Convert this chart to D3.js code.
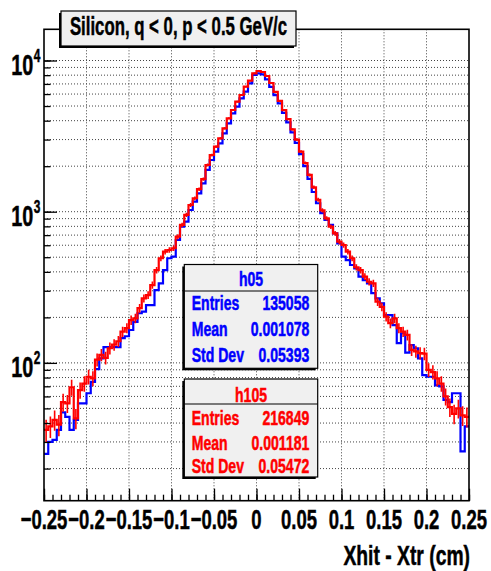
<!DOCTYPE html>
<html>
<head>
<meta charset="utf-8">
<script src="https://cdn.jsdelivr.net/npm/d3@7"></script>
<style>
  body { margin: 0; background: #fff; }
  text { font-family: "Liberation Sans", Arial, sans-serif; font-weight: bold; stroke-width: 0.5px; }
</style>
</head>
<body>
<svg id="chart" width="491" height="571"></svg>
<script>
// histogram binning
const nBins = 100
const xMin = -0.25
const xMax = 0.25

// h05 (blue) bin contents
const blueCounts = [
  25, 30, 31, 36, 47, 44, 36, 42, 54, 54,
  63, 75, 91, 107, 127, 127, 127, 127, 146, 150,
  165, 187, 213, 218, 241, 241, 303, 336, 411, 492,
  504, 650, 796, 859, 1026, 1165, 1320, 1540, 1888, 2198,
  2495, 2835, 3300, 3844, 4477, 4948, 5623, 6219, 7066, 8017,
  8229, 8100, 7500, 6700, 5900, 5200, 4500, 3900, 3350, 2850,
  2400, 2000, 1650, 1350, 1137, 980, 881, 817, 719, 618,
  504, 479, 444, 422, 372, 353, 336, 289, 267, 248,
  207, 207, 178, 135, 157, 117, 131, 125, 107, 83,
  81, 81, 71, 70, 57, 55, 63, 63, 26, 38
]

// h105 (red) bin contents
const redCounts = [
  36, 38, 42, 39, 55, 54, 69, 43, 66, 73,
  81, 79, 105, 113, 108, 125, 132, 139, 161, 170,
  192, 197, 230, 267, 281, 327, 411, 492, 544, 558,
  573, 684, 817, 952, 1107, 1227, 1410, 1640, 2036, 2371,
  2692, 3057, 3559, 4147, 4707, 5341, 5912, 6711, 7353, 8229,
  8524, 8392, 7900, 7100, 6200, 5400, 4700, 4100, 3500, 3000,
  2500, 2100, 1750, 1450, 1200, 1020, 904, 796, 719, 634,
  602, 544, 492, 429, 411, 372, 344, 336, 254, 235,
  202, 183, 197, 170, 161, 153, 122, 119, 116, 115,
  90, 87, 79, 73, 60, 51, 46, 50, 45, 44
]

const xTicks = [-0.25, -0.2, -0.15, -0.1, -0.05, 0, 0.05, 0.1, 0.15, 0.2, 0.25]
const xTickLabels = ["\u22120.25", "\u22120.2", "\u22120.15", "\u22120.1", "\u22120.05", "0", "0.05", "0.1", "0.15", "0.2", "0.25"]
const yDecades = [100, 1000, 10000]
const yExponents = ["2", "3", "4"]

const titleText = "Silicon, q < 0, p < 0.5 GeV/c"
const xTitle = "Xhit - Xtr (cm)"
const statLabels = ["Entries", "Mean", "Std Dev"]
const blueStats = ["135058", "0.001078", "0.05393"]
const redStats = ["216849", "0.001181", "0.05472"]

const BLUE = "#0000ff"
const RED = "#ff0000"

const svg = d3.select("#chart")

// frame
const fL = 44, fR = 469, fT = 29.3, fB = 500.7

const x = d3.scaleLinear().domain([xMin, xMax]).range([fL, fR])
const y = d3.scaleLog().domain([12.26, 16085]).range([fB, fT])

const binW = (xMax - xMin) / nBins
const edge = (i) => xMin + i * binW

// minor values for log grid
const yMinor = []
for (let d = 10; d <= 10000; d *= 10) {
  for (let k = 1; k < 10; k++) {
    const v = d * k
    if (v >= 12.26 && v <= 16085) yMinor.push(v)
  }
}

// grid
const grid = svg.append("g").attr("class", "grid")
grid.selectAll("line.gy")
  .data(yMinor)
  .enter().append("line")
  .attr("x1", fL).attr("x2", fR)
  .attr("y1", (d) => y(d)).attr("y2", (d) => y(d))
  .attr("stroke", "#444").attr("stroke-width", 1).attr("stroke-dasharray", "1,2")
grid.selectAll("line.gx")
  .data(xTicks.slice(1, -1))
  .enter().append("line")
  .attr("x1", (d) => x(d)).attr("x2", (d) => x(d))
  .attr("y1", fT).attr("y2", fB)
  .attr("stroke", "#444").attr("stroke-width", 1).attr("stroke-dasharray", "1,2")

// histograms
svg.append("clipPath").attr("id", "frameClip")
  .append("rect").attr("x", fL).attr("y", fT).attr("width", fR - fL).attr("height", fB - fT)

const stepLine = d3.line()
  .x((d) => x(d[0]))
  .y((d) => y(d[1]))
  .curve(d3.curveStepAfter)

const toSteps = (counts) => {
  const pts = counts.map((c, i) => [edge(i), c])
  pts.push([edge(nBins), counts[nBins - 1]])
  return pts
}

const plot = svg.append("g").attr("clip-path", "url(#frameClip)")

plot.append("path")
  .datum(toSteps(blueCounts))
  .attr("fill", "none").attr("stroke", BLUE).attr("stroke-width", 2.2)
  .attr("d", stepLine)

plot.append("path")
  .datum(toSteps(redCounts))
  .attr("fill", "none").attr("stroke", RED).attr("stroke-width", 2.2)
  .attr("d", stepLine)

// red error bars
plot.selectAll("line.err")
  .data(redCounts)
  .enter().append("line")
  .attr("x1", (d, i) => x(edge(i) + binW / 2))
  .attr("x2", (d, i) => x(edge(i) + binW / 2))
  .attr("y1", (d) => y(Math.max(d - Math.sqrt(d), 1)))
  .attr("y2", (d) => y(d + Math.sqrt(d)))
  .attr("stroke", RED).attr("stroke-width", 1.6)

// axes ticks (drawn inside frame, ROOT style)
const yMajAxis = d3.axisRight(y).tickValues(yDecades).tickSize(13).tickFormat("")
const yMinAxis = d3.axisRight(y).tickValues(yMinor).tickSize(6.5).tickFormat("")
const yg1 = svg.append("g").attr("transform", `translate(${fL},0)`).call(yMajAxis)
const yg2 = svg.append("g").attr("transform", `translate(${fL},0)`).call(yMinAxis)

const xMinorVals = d3.range(0, 51).map((k) => xMin + k * 0.01)
const xMajAxis = d3.axisTop(x).tickValues(xTicks).tickSize(12).tickFormat("")
const xMinAxis = d3.axisTop(x).tickValues(xMinorVals).tickSize(6).tickFormat("")
const xg1 = svg.append("g").attr("transform", `translate(0,${fB})`).call(xMajAxis)
const xg2 = svg.append("g").attr("transform", `translate(0,${fB})`).call(xMinAxis)

;[yg1, yg2, xg1, xg2].forEach((g) => {
  g.select(".domain").remove()
  g.selectAll(".tick line").attr("stroke", "#000").attr("stroke-width", 1.3)
})

// frame border
svg.append("rect")
  .attr("x", fL).attr("y", fT).attr("width", fR - fL).attr("height", fB - fT)
  .attr("fill", "none").attr("stroke", "#000").attr("stroke-width", 1.6)

// x tick labels
svg.append("g").selectAll("g")
  .data(xTicks)
  .enter().append("g")
  .attr("transform", (d) => `translate(${x(d)},529.3) scale(0.66,1)`)
  .append("text")
  .attr("text-anchor", "middle")
  .attr("font-size", 28)
  .attr("stroke", "#000")
  .text((d, i) => xTickLabels[i])

// y tick labels, 10^n
const yl = svg.append("g").selectAll("g")
  .data(yDecades)
  .enter().append("g")
  .attr("transform", (d) => `translate(33.3,${y(d) + 14.5}) scale(0.66,1)`)
yl.append("text").attr("text-anchor", "end").attr("font-size", 30).attr("stroke", "#000").text("10")
yl.append("text").attr("x", 0.5).attr("y", -13.3).attr("text-anchor", "start").attr("font-size", 18)
  .attr("stroke", "#000")
  .text((d, i) => yExponents[i])

// x axis title
svg.append("g").attr("transform", "translate(470,565) scale(0.69,1)")
  .append("text").attr("text-anchor", "end").attr("font-size", 28).attr("stroke", "#000").text(xTitle)

// boxes
const paveBox = (bx, by, bw, bh) => {
  svg.append("rect").attr("x", bx - 2).attr("y", by + 2).attr("width", bw).attr("height", bh).attr("fill", "#000")
  svg.append("rect").attr("x", bx).attr("y", by).attr("width", bw).attr("height", bh)
    .attr("fill", "#f0f0f0").attr("stroke", "#000").attr("stroke-width", 1.2)
}

// title
paveBox(61, 11, 235, 35)
svg.append("g").attr("transform", "translate(178.5,35) scale(0.658,1)")
  .append("text").attr("text-anchor", "middle").attr("font-size", 25.5).attr("fill", "#000")
  .attr("stroke", "#000").text(titleText)

// stats boxes
const statsBox = (name, vals, color, by, bh, divY, baselines) => {
  const bx = 184.3, bw = 133.4
  paveBox(bx, by, bw, bh)
  svg.append("line").attr("x1", bx).attr("x2", bx + bw).attr("y1", divY).attr("y2", divY)
    .attr("stroke", "#000").attr("stroke-width", 1.2)
  svg.append("g").attr("transform", `translate(${bx + bw / 2},${baselines[0]}) scale(0.72,1)`)
    .append("text").attr("text-anchor", "middle").attr("font-size", 19.5)
    .attr("fill", color).attr("stroke", color).text(name)
  statLabels.forEach((lab, i) => {
    svg.append("g").attr("transform", `translate(191.7,${baselines[i + 1]}) scale(0.72,1)`)
      .append("text").attr("font-size", 19.5).attr("fill", color).attr("stroke", color).text(lab)
    svg.append("g").attr("transform", `translate(309.3,${baselines[i + 1]}) scale(0.72,1)`)
      .append("text").attr("text-anchor", "end").attr("font-size", 19.5)
      .attr("fill", color).attr("stroke", color).text(vals[i])
  })
}

statsBox("h05", blueStats, BLUE, 264.5, 103.8, 291, [286, 310, 336, 361.7])
statsBox("h105", redStats, RED, 379, 98, 404, [401.7, 425, 450, 473])
</script>
</body>
</html>
